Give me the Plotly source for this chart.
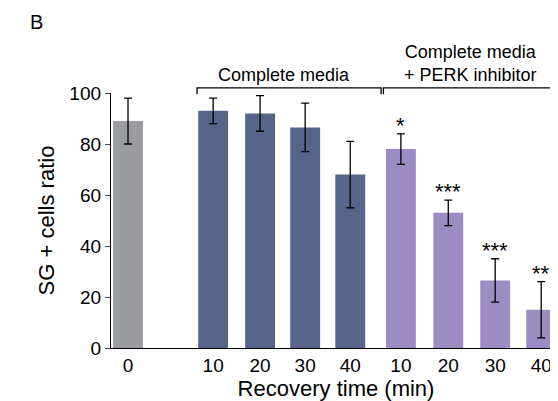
import plotly.graph_objects as go

labels = ["0", "10", "20", "30", "40", "10", "20", "30", "40"]
xpos = [0, 1.85, 2.87, 3.85, 4.83, 5.93, 6.96, 7.98, 8.98]
values = [89, 93, 92, 86.5, 68, 78, 53, 26.5, 15]
errors = [9, 5, 7, 9.5, 13, 6, 5, 8.5, 11]
stars = ["", "", "", "", "", "*", "***", "***", "**"]
colors = ["#9b9ca0"] + ["#56648a"] * 4 + ["#9b8cc4"] * 4

fig = go.Figure()
fig.add_trace(go.Bar(
    x=xpos, y=values, width=0.65, marker_color=colors, marker_line_width=0,
    error_y=dict(type="data", array=errors, color="black", thickness=1.3, width=4),
    cliponaxis=False,
))

for x, v, e, s in zip(xpos, values, errors, stars):
    if s:
        fig.add_annotation(x=x, y=v + e, text=s, showarrow=False, yanchor="bottom",
                           yshift=-6, font=dict(size=22, color="black"))

# group brackets (paper y: 1.0 = top of plot)
for x0, x1 in [(1.5, 5.5), (5.55, 9.35)]:
    fig.add_shape(type="path", xref="x", yref="paper",
                  path=f"M {x0},0.995 L {x0},1.02 L {x1},1.02 L {x1},0.995",
                  line=dict(color="black", width=1.3))
fig.add_annotation(x=3.4, y=1.025, xref="x", yref="paper", text="Complete media",
                   showarrow=False, yanchor="bottom", font=dict(size=18, color="black"))
fig.add_annotation(x=7.45, y=1.025, xref="x", yref="paper",
                   text="Complete media<br>+ PERK inhibitor", showarrow=False,
                   yanchor="bottom", font=dict(size=18, color="black"))
fig.add_annotation(x=-0.185, y=1.33, xref="paper", yref="paper", xanchor="left", yanchor="top",
                   text="B", showarrow=False, font=dict(size=20, color="black"))

fig.update_layout(
    width=558, height=401, plot_bgcolor="white", paper_bgcolor="white",
    margin=dict(l=103, r=5, t=85, b=61), showlegend=False,
    font=dict(family="Liberation Sans, Arial", color="black"),
)
fig.update_xaxes(tickvals=xpos, ticktext=labels, range=[-0.37, 9.41],
                 showline=True, linecolor="black", linewidth=1.3, ticks="",
                 tickfont=dict(size=19), title=dict(text="Recovery time (min)", font=dict(size=22), standoff=2))
fig.update_yaxes(range=[0, 100], tickvals=[0, 20, 40, 60, 80, 100], showline=True,
                 linecolor="black", linewidth=1.3, ticks="outside", ticklen=5, showgrid=False,
                 zeroline=False, tickfont=dict(size=19),
                 title=dict(text="SG + cells ratio", font=dict(size=22), standoff=8))
fig.write_html("out.html")
